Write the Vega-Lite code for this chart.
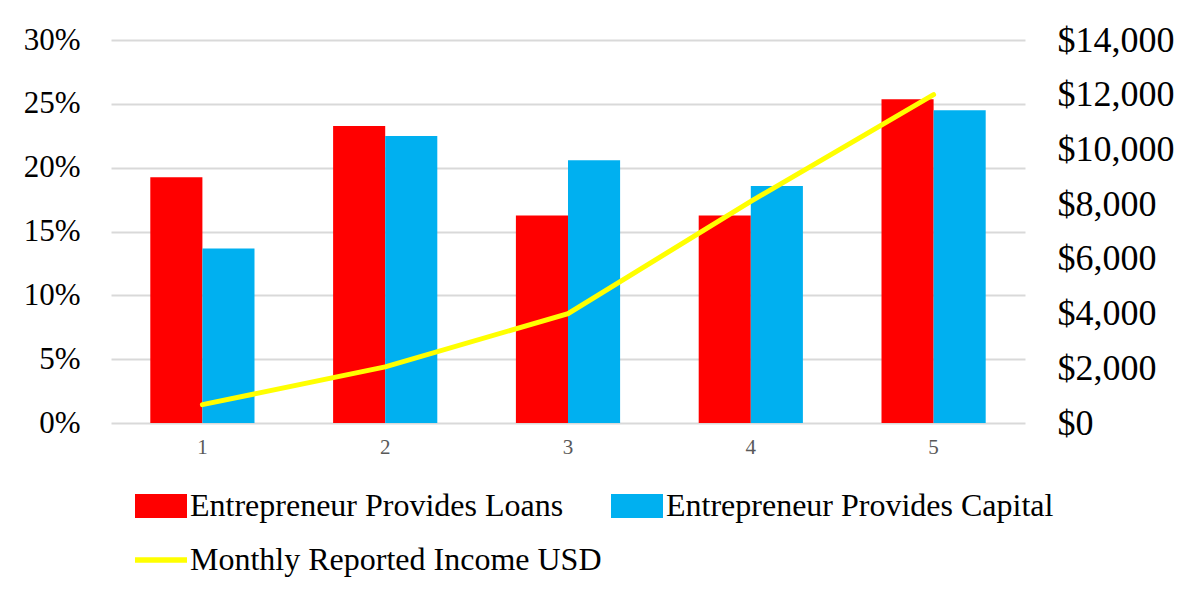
{
  "$schema": "https://vega.github.io/schema/vega-lite/v6.json",
  "autosize": "none",
  "width": 914,
  "height": 383,
  "padding": {"left": 111, "top": 40, "right": 169, "bottom": 171},
  "background": "white",
  "config": {
    "font": "Liberation Serif",
    "view": {"stroke": null}
  },
  "data": {
    "values": [
      {"cat": "1", "series": "Entrepreneur Provides Loans", "pct": 0.1925},
      {"cat": "1", "series": "Entrepreneur Provides Capital", "pct": 0.1366},
      {"cat": "2", "series": "Entrepreneur Provides Loans", "pct": 0.2326},
      {"cat": "2", "series": "Entrepreneur Provides Capital", "pct": 0.2248},
      {"cat": "3", "series": "Entrepreneur Provides Loans", "pct": 0.1625},
      {"cat": "3", "series": "Entrepreneur Provides Capital", "pct": 0.2058},
      {"cat": "4", "series": "Entrepreneur Provides Loans", "pct": 0.1625},
      {"cat": "4", "series": "Entrepreneur Provides Capital", "pct": 0.1857},
      {"cat": "5", "series": "Entrepreneur Provides Loans", "pct": 0.2535},
      {"cat": "5", "series": "Entrepreneur Provides Capital", "pct": 0.2449},
      {"cat": "1", "series": "Monthly Reported Income USD", "income": 670},
      {"cat": "2", "series": "Monthly Reported Income USD", "income": 2050},
      {"cat": "3", "series": "Monthly Reported Income USD", "income": 4000},
      {"cat": "4", "series": "Monthly Reported Income USD", "income": 8100},
      {"cat": "5", "series": "Monthly Reported Income USD", "income": 12000}
    ]
  },
  "encoding": {
    "x": {
      "field": "cat",
      "type": "nominal",
      "scale": {"paddingInner": 0.43, "paddingOuter": 0.215},
      "axis": {
        "title": null,
        "labelAngle": 0,
        "labelFont": "Liberation Serif",
        "labelFontSize": 21,
        "labelColor": "#595959",
        "labelPadding": 13,
        "domain": false,
        "ticks": false
      }
    },
    "color": {
      "field": "series",
      "type": "nominal",
      "scale": {
        "domain": ["Entrepreneur Provides Loans", "Entrepreneur Provides Capital", "Monthly Reported Income USD"],
        "range": ["#FF0000", "#00B0F0", "#FFFF00"]
      },
      "legend": {
        "title": null,
        "orient": "none",
        "legendX": 24,
        "legendY": 440,
        "direction": "horizontal",
        "columns": 2,
        "columnPadding": 9,
        "rowPadding": 12,
        "labelFont": "Liberation Serif",
        "labelFontSize": 32,
        "labelColor": "#000000",
        "labelLimit": 800,
        "labelOffset": 3,
        "symbolSize": 2704,
        "symbolStrokeWidth": 0,
        "encode": {
          "symbols": {
            "update": {
              "shape": [
                {"test": "datum.value === 'Monthly Reported Income USD'", "value": "M-1,-0.11H1V0.11H-1Z"},
                {"value": "M-1,-0.46H1V0.46H-1Z"}
              ],
              "fill": {"scale": "color", "field": "value"},
              "fillOpacity": {"value": 1},
              "strokeWidth": {"value": 0},
              "size": {"value": 2704}
            }
          }
        }
      }
    }
  },
  "layer": [
    {
      "transform": [{"filter": "datum.pct != null"}],
      "mark": {"type": "bar"},
      "encoding": {
        "xOffset": {
          "field": "series",
          "type": "nominal",
          "scale": {"domain": ["Entrepreneur Provides Loans", "Entrepreneur Provides Capital"], "paddingInner": 0, "paddingOuter": 0}
        },
        "y": {
          "field": "pct",
          "type": "quantitative",
          "scale": {"domain": [0, 0.3], "nice": false},
          "axis": {
            "title": null,
            "values": [0, 0.05, 0.1, 0.15, 0.2, 0.25, 0.3],
            "format": ".0%",
            "labelFont": "Liberation Serif",
            "labelFontSize": 31,
            "labelColor": "#000000",
            "labelPadding": 31,
            "domain": false,
            "ticks": false,
            "gridColor": "#d9d9d9",
            "gridWidth": 2
          }
        }
      }
    },
    {
      "transform": [{"filter": "datum.income != null"}],
      "mark": {"type": "line", "strokeWidth": 5, "strokeCap": "round"},
      "encoding": {
        "y": {
          "field": "income",
          "type": "quantitative",
          "scale": {"domain": [0, 14000], "nice": false},
          "axis": {
            "orient": "right",
            "title": null,
            "values": [0, 2000, 4000, 6000, 8000, 10000, 12000, 14000],
            "format": "$,.0f",
            "labelFont": "Liberation Serif",
            "labelFontSize": 36,
            "labelColor": "#000000",
            "labelPadding": 32,
            "domain": false,
            "ticks": false,
            "grid": false
          }
        }
      }
    }
  ],
  "resolve": {"scale": {"y": "independent"}}
}
